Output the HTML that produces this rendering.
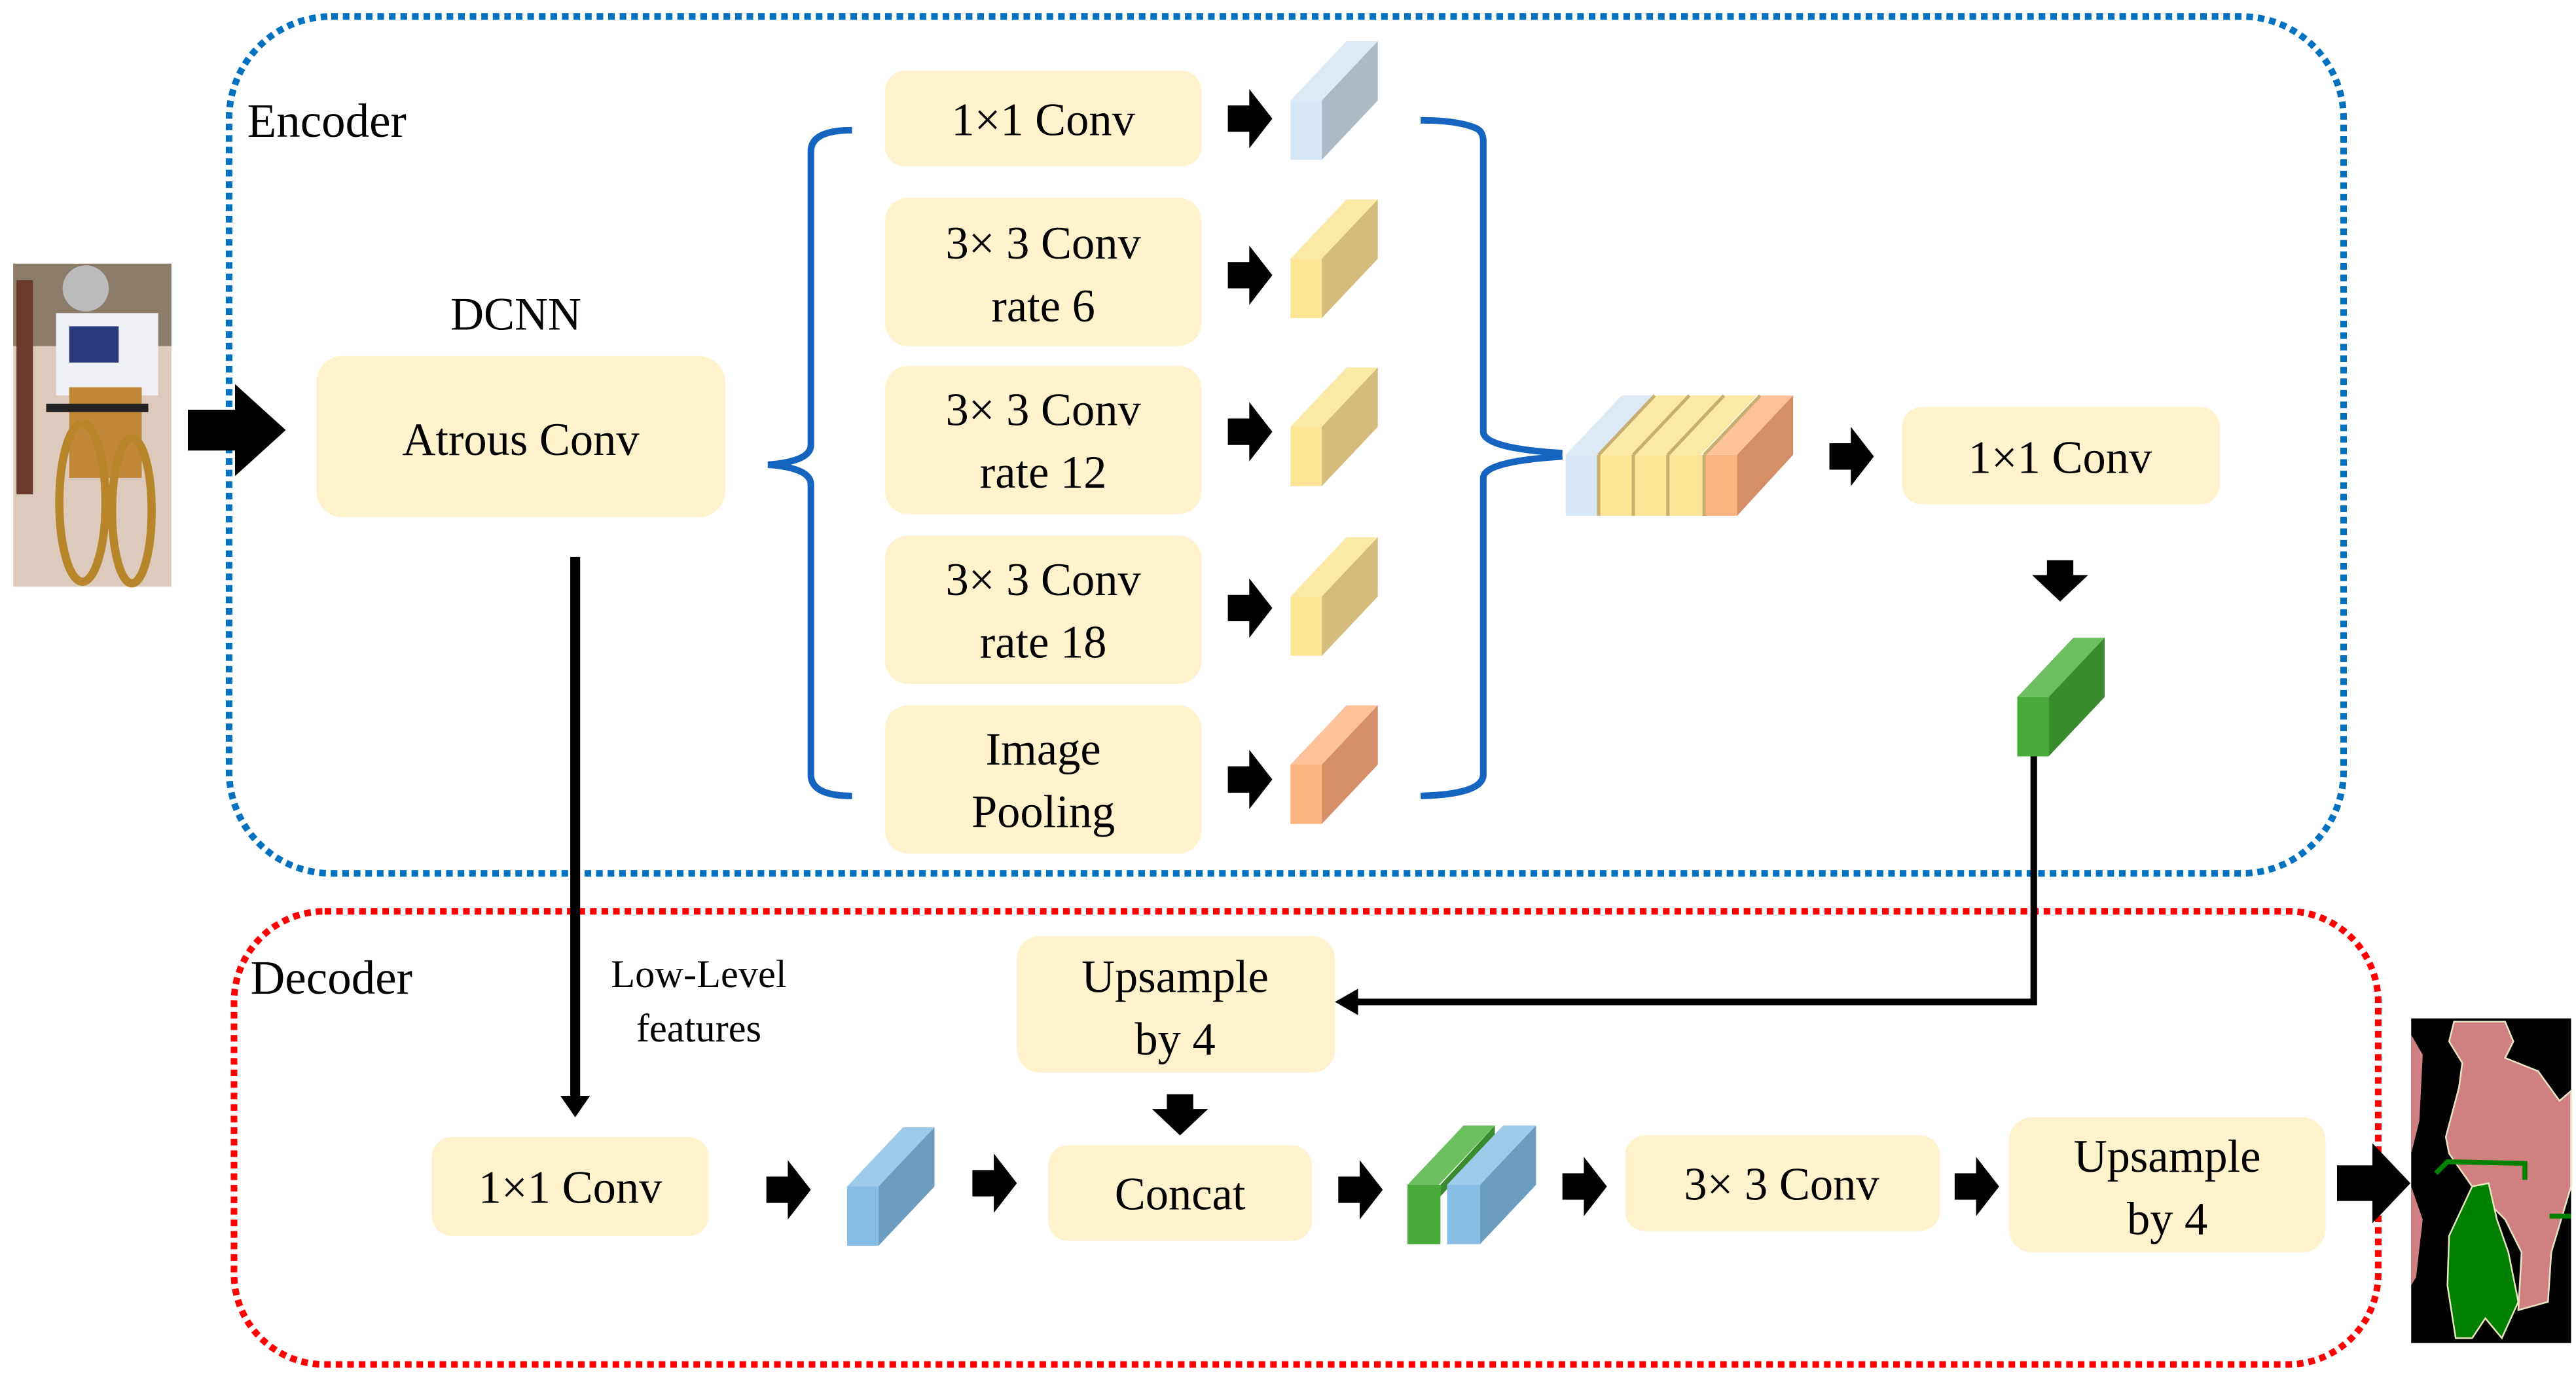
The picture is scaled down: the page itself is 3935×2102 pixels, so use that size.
<!DOCTYPE html>
<html><head><meta charset="utf-8"><style>
html,body{margin:0;padding:0;background:#fff;}
svg{display:block;}
</style></head><body>
<svg width="3935" height="2102" viewBox="0 0 1563 835" preserveAspectRatio="none" xmlns="http://www.w3.org/2000/svg" font-family="'Liberation Serif','DejaVu Serif',serif">
<defs>
<g id="ar"><polygon points="0,-8 13,-8 13,-18 27,0 13,18 13,8 0,8" fill="#000"/></g>
<g id="ad"><polygon points="-8,0 8,0 8,9 17,9 0,25 -17,9 -8,9" fill="#000"/></g>
</defs>
<rect x="139" y="10" width="1283" height="520" rx="62" fill="none" stroke="#0070c0" stroke-width="4" stroke-dasharray="4 3"/>
<rect x="142" y="553" width="1301" height="275" rx="55" fill="none" stroke="#ff0000" stroke-width="4" stroke-dasharray="4 3"/>

<!-- input photo -->
<rect x="8" y="160" width="96" height="196" fill="#dccbbc"/>
<rect x="8" y="160" width="96" height="50" fill="#8c7c6a"/>
<rect x="10" y="170" width="10" height="130" fill="#6a3a2a"/>
<rect x="34" y="190" width="62" height="50" fill="#eef0f6"/>
<rect x="42" y="198" width="30" height="22" fill="#2a3a7a"/>
<circle cx="52" cy="175" r="14" fill="#bbb"/>
<rect x="42" y="235" width="44" height="55" fill="#c08838"/>
<ellipse cx="50" cy="305" rx="14" ry="48" fill="none" stroke="#b8862a" stroke-width="5"/>
<ellipse cx="80" cy="310" rx="12" ry="44" fill="none" stroke="#b8862a" stroke-width="5"/>
<rect x="28" y="245" width="62" height="5" fill="#222"/>
<use href="#ar" transform="translate(114,261) scale(2.2,1.55)"/>

<g fill="#fff2cc">
<rect x="192" y="216" width="248" height="98" rx="16"/>
<rect x="537" y="43" width="192" height="58" rx="12"/>
<rect x="537" y="120" width="192" height="90" rx="14"/>
<rect x="537" y="222" width="192" height="90" rx="14"/>
<rect x="537" y="325" width="192" height="90" rx="14"/>
<rect x="537" y="428" width="192" height="90" rx="14"/>
<rect x="1154" y="247" width="193" height="59" rx="12"/>
<rect x="617" y="568" width="193" height="83" rx="14"/>
<rect x="262" y="690" width="168" height="60" rx="12"/>
<rect x="636" y="695" width="160" height="58" rx="12"/>
<rect x="986" y="689" width="191" height="58" rx="12"/>
<rect x="1219" y="678" width="192" height="82" rx="14"/>
</g>

<path d="M517,79 Q492,79 492,92 L492,270 Q492,280 466,282 Q492,284 492,294 L492,470 Q492,483 517,483" fill="none" stroke="#1565c0" stroke-width="4"/>
<path d="M862,73 Q885,73 896,78 Q900,80 900,86 L900,262 Q900,272 948,275 M948,277 Q900,280 900,290 L900,470 Q900,482 862,483" fill="none" stroke="#1565c0" stroke-width="4"/>

<g fill="#000" font-size="28" text-anchor="middle">
<text x="150" y="83" font-size="29" text-anchor="start">Encoder</text>
<text x="152" y="603" font-size="29" text-anchor="start">Decoder</text>
<text x="313" y="200">DCNN</text>
<text x="316" y="276">Atrous Conv</text>
<text x="633" y="82">1×1 Conv</text>
<text x="633" y="157">3× 3 Conv</text>
<text x="633" y="195">rate 6</text>
<text x="633" y="258">3× 3 Conv</text>
<text x="633" y="296">rate 12</text>
<text x="633" y="361">3× 3 Conv</text>
<text x="633" y="399">rate 18</text>
<text x="633" y="464">Image</text>
<text x="633" y="502">Pooling</text>
<text x="1250" y="287">1×1 Conv</text>
<text x="713" y="602">Upsample</text>
<text x="713" y="640">by 4</text>
<text x="346" y="730">1×1 Conv</text>
<text x="716" y="734">Concat</text>
<text x="1081" y="728">3× 3 Conv</text>
<text x="1315" y="711">Upsample</text>
<text x="1315" y="749">by 4</text>
<text x="424" y="599" font-size="24">Low-Level</text>
<text x="424" y="632" font-size="24">features</text>
</g>
<use href="#ar" transform="translate(745,72)"/>
<use href="#ar" transform="translate(745,167)"/>
<use href="#ar" transform="translate(745,262)"/>
<use href="#ar" transform="translate(745,369)"/>
<use href="#ar" transform="translate(745,473)"/>

<g>
<polygon points="783,61 817,25 836,25 802,61" fill="#dde9f5"/><polygon points="802,61 836,25 836,61 802,97" fill="#adbac6"/><rect x="783" y="61" width="19" height="36" fill="#d8e7f5"/>
<polygon points="783,157 817,121 836,121 802,157" fill="#fde9a6"/><polygon points="802,157 836,121 836,157 802,193" fill="#d5bc7c"/><rect x="783" y="157" width="19" height="36" fill="#fee596"/>
<polygon points="783,259 817,223 836,223 802,259" fill="#fde9a6"/><polygon points="802,259 836,223 836,259 802,295" fill="#d5bc7c"/><rect x="783" y="259" width="19" height="36" fill="#fee596"/>
<polygon points="783,362 817,326 836,326 802,362" fill="#fde9a6"/><polygon points="802,362 836,326 836,362 802,398" fill="#d5bc7c"/><rect x="783" y="362" width="19" height="36" fill="#fee596"/>
<polygon points="783,464 817,428 836,428 802,464" fill="#fdc29a"/><polygon points="802,464 836,428 836,464 802,500" fill="#d68e68"/><rect x="783" y="464" width="19" height="36" fill="#fdb380"/>
</g>

<g>
<polygon points="950,276 984,240 1004,240 970,276" fill="#dde9f5"/><rect x="950" y="276" width="20" height="37" fill="#d8e7f5"/>
<polygon points="970,276 1004,240 1025,240 991,276" fill="#fde9a6"/><rect x="970" y="276" width="21" height="37" fill="#fee596"/>
<polygon points="991,276 1025,240 1046,240 1012,276" fill="#fde9a6"/><rect x="991" y="276" width="21" height="37" fill="#fee596"/>
<polygon points="1012,276 1046,240 1066,240 1032,276" fill="#fde9a6"/><rect x="1012" y="276" width="22" height="37" fill="#fee596"/>
<polygon points="1034,276 1068,240 1088,240 1054,276" fill="#fdc29a"/><rect x="1034" y="276" width="20" height="37" fill="#fdb380"/>
<polygon points="1054,276 1088,240 1088,276 1054,313" fill="#d68e68"/>
<g stroke="#c8ae70" stroke-width="2">
<line x1="970" y1="276" x2="1004" y2="240"/><line x1="991" y1="276" x2="1025" y2="240"/><line x1="1012" y1="276" x2="1046" y2="240"/><line x1="1034" y1="276" x2="1068" y2="240"/>
<line x1="970" y1="276" x2="970" y2="313"/><line x1="991" y1="276" x2="991" y2="313"/><line x1="1012" y1="276" x2="1012" y2="313"/><line x1="1034" y1="276" x2="1034" y2="313"/>
</g>
</g>
<use href="#ar" transform="translate(1110,277)"/>
<use href="#ad" transform="translate(1250,340)"/>
<polygon points="1224,423 1258,387 1277,387 1243,423" fill="#6bbf5e"/><polygon points="1243,423 1277,387 1277,423 1243,459" fill="#3a8a2e"/><rect x="1224" y="423" width="19" height="36" fill="#48ab3a"/>

<polyline points="1234,459 1234,608 822,608" fill="none" stroke="#000" stroke-width="4"/>
<polygon points="810,608 824,600 824,616" fill="#000"/>
<line x1="349" y1="338" x2="349" y2="665" stroke="#000" stroke-width="6"/>
<polygon points="340,665 358,665 349,678" fill="#000"/>

<use href="#ad" transform="translate(716,664)"/>
<use href="#ar" transform="translate(465,722)"/>
<polygon points="514,720 548,684 567,684 533,720" fill="#9fcbea"/><polygon points="533,720 567,684 567,720 533,756" fill="#6c9cbf"/><rect x="514" y="720" width="19" height="36" fill="#88bde5"/>
<use href="#ar" transform="translate(590,718)"/>
<use href="#ar" transform="translate(812,722)"/>
<polygon points="854,719 888,683 907,683 873,719" fill="#6bbf5e"/><rect x="854" y="719" width="20" height="36" fill="#48ab3a"/><polygon points="874,719 907,683 907,690 874,726" fill="#3a8a2e"/>
<polygon points="878,719 912,683 932,683 898,719" fill="#9fcbea"/><polygon points="898,719 932,683 932,719 898,755" fill="#6c9cbf"/><rect x="878" y="719" width="20" height="36" fill="#88bde5"/>
<use href="#ar" transform="translate(948,720)"/>
<use href="#ar" transform="translate(1186,720)"/>
<use href="#ar" transform="translate(1418,718) scale(1.65,1.35)"/>

<rect x="1463" y="618" width="97" height="197" fill="#000"/>
<path d="M1489,620 L1520,620 L1525,632 L1520,642 L1540,650 L1553,668 L1560,662 L1560,720 L1548,760 L1546,790 L1528,795 L1530,760 L1520,740 L1500,720 L1486,700 L1484,690 L1492,660 L1494,645 L1486,632 Z" fill="#d08080" stroke="#e8e4c0" stroke-width="1"/>
<path d="M1463,628 L1470,640 L1468,680 L1463,700 Z" fill="#d08080"/>
<path d="M1463,720 L1470,740 L1466,775 L1463,780 Z" fill="#d08080"/>
<path d="M1500,720 L1510,718 L1515,740 L1522,760 L1528,790 L1518,812 L1508,800 L1500,812 L1490,812 L1485,780 L1486,750 Z" fill="#008000" stroke="#e8e4c0" stroke-width="1"/>
<path d="M1478,712 L1485,705 L1532,706 L1532,716" fill="none" stroke="#008000" stroke-width="3"/>
<path d="M1547,738 L1560,738" fill="none" stroke="#008000" stroke-width="3"/>
</svg>
</body></html>
